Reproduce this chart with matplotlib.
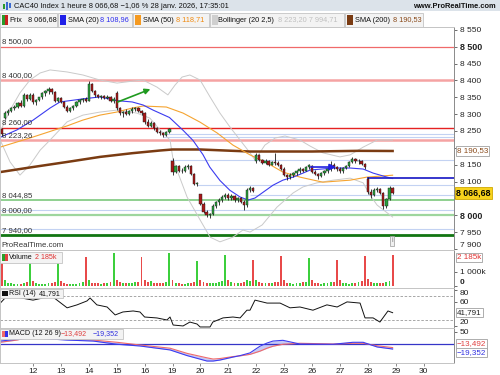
import numpy as np
import matplotlib
matplotlib.use("Agg")
import matplotlib.pyplot as plt
from matplotlib.patches import Rectangle
import matplotlib.transforms as mtransforms

plt.rcParams['font.family'] = ['Liberation Sans', 'DejaVu Sans']

# hourly bars, index 0 = 12 janv. 9h00, 9 bars per session (9h..17h)
first_bar = -10
day_labels = ['12', '13', '14', '15', '16', '19', '20', '21', '22', '23', '26', '27', '28', '29', '30']

opens = [
    8255,
    8288, 8302, 8310, 8318, 8322, 8333, 8325, 8358, 8345,
    8358, 8335, 8342, 8350, 8362, 8368, 8375, 8365, 8338,
    8348, 8335, 8322, 8310, 8318, 8325, 8336, 8342, 8345,
    8340, 8390, 8368, 8356, 8352, 8354, 8348, 8352, 8340,
    8362, 8318, 8302, 8305, 8300, 8310, 8315, 8318, 8308,
    8302, 8276, 8266, 8274, 8258, 8248, 8244, 8238, 8246,
    8160, 8128, 8145, 8132, 8130, 8142, 8146, 8122, 8092,
    8062, 8034, 8010, 8000, 8004, 8028, 8038, 8046, 8055,
    8060, 8050, 8058, 8044, 8052, 8040, 8030, 8076, 8082,
    8160, 8180, 8165, 8156, 8162, 8150, 8158, 8154, 8150,
    8138, 8118, 8112, 8120, 8125, 8132, 8138, 8132, 8142,
    8146, 8128, 8122, 8115, 8125, 8130, 8136, 8150, 8142,
    8136, 8130, 8140, 8146, 8158, 8166, 8160, 8162, 8152,
    8108, 8070, 8060, 8074, 8078, 8066, 8028, 8048, 8082,
]
highs = [
    8258,
    8308, 8315, 8322, 8328, 8337, 8342, 8362, 8360, 8362,
    8362, 8345, 8352, 8365, 8372, 8380, 8378, 8368, 8352,
    8350, 8340, 8328, 8322, 8328, 8340, 8346, 8348, 8350,
    8398, 8393, 8372, 8360, 8358, 8357, 8356, 8354, 8350,
    8368, 8322, 8310, 8315, 8312, 8320, 8322, 8320, 8312,
    8305, 8285, 8280, 8276, 8262, 8254, 8248, 8250, 8260,
    8170, 8150, 8150, 8140, 8148, 8152, 8148, 8126, 8100,
    8064, 8038, 8015, 8008, 8032, 8042, 8050, 8060, 8065,
    8066, 8062, 8060, 8055, 8054, 8044, 8082, 8086, 8084,
    8186, 8183, 8168, 8166, 8164, 8162, 8184, 8160, 8152,
    8142, 8122, 8124, 8128, 8134, 8142, 8140, 8146, 8152,
    8148, 8134, 8126, 8128, 8134, 8140, 8160, 8154, 8146,
    8142, 8144, 8150, 8162, 8172, 8170, 8166, 8164, 8156,
    8112, 8078, 8080, 8084, 8080, 8068, 8052, 8086, 8085,
]
lows = [
    8235,
    8285, 8298, 8305, 8312, 8318, 8320, 8322, 8340, 8343,
    8330, 8328, 8338, 8345, 8355, 8360, 8360, 8335, 8335,
    8332, 8318, 8305, 8306, 8312, 8322, 8330, 8336, 8335,
    8338, 8365, 8352, 8348, 8346, 8345, 8344, 8336, 8332,
    8312, 8298, 8292, 8298, 8296, 8304, 8310, 8305, 8298,
    8272, 8262, 8262, 8254, 8244, 8238, 8232, 8234, 8243,
    8120, 8125, 8128, 8126, 8128, 8136, 8118, 8090, 8088,
    8030, 8006, 7994, 7992, 8000, 8020, 8030, 8040, 8048,
    8046, 8046, 8040, 8040, 8036, 8015, 8025, 8070, 8068,
    8155, 8160, 8152, 8152, 8146, 8148, 8150, 8146, 8134,
    8115, 8104, 8108, 8114, 8120, 8126, 8128, 8130, 8138,
    8124, 8118, 8108, 8112, 8120, 8126, 8130, 8136, 8130,
    8124, 8126, 8136, 8142, 8154, 8156, 8152, 8148, 8138,
    8062, 8052, 8056, 8068, 8062, 8018, 8022, 8045, 8062,
]
closes = [
    8240,
    8302, 8310, 8318, 8322, 8333, 8325, 8358, 8345, 8358,
    8335, 8342, 8350, 8362, 8368, 8375, 8365, 8338, 8348,
    8335, 8322, 8310, 8318, 8325, 8336, 8342, 8345, 8340,
    8390, 8368, 8356, 8352, 8354, 8348, 8352, 8340, 8346,
    8318, 8302, 8305, 8300, 8310, 8315, 8318, 8308, 8302,
    8276, 8266, 8274, 8258, 8248, 8244, 8238, 8246, 8255,
    8128, 8145, 8132, 8130, 8142, 8146, 8122, 8094, 8096,
    8034, 8010, 8000, 8004, 8028, 8038, 8046, 8055, 8060,
    8050, 8058, 8044, 8052, 8040, 8030, 8076, 8082, 8072,
    8180, 8165, 8156, 8162, 8150, 8158, 8154, 8150, 8138,
    8118, 8112, 8120, 8125, 8132, 8138, 8132, 8142, 8148,
    8128, 8122, 8115, 8125, 8130, 8136, 8150, 8142, 8136,
    8130, 8140, 8146, 8158, 8166, 8160, 8162, 8152, 8144,
    8070, 8060, 8074, 8078, 8066, 8028, 8048, 8082, 8066.68,
]
# volume in thousands
volumes = [
    2000,
    420, 180, 200, 170, 160, 170, 220, 260, 1750,
    330, 190, 160, 150, 170, 180, 230, 280, 1750,
    380, 210, 170, 160, 150, 170, 230, 280, 2040,
    420, 230, 190, 180, 170, 180, 240, 300, 2330,
    450, 260, 200, 180, 190, 230, 250, 300, 2040,
    420, 260, 330, 200, 190, 180, 230, 260, 2330,
    430, 220, 180, 160, 170, 180, 200, 250, 1750,
    420, 260, 220, 230, 200, 210, 280, 330, 2185,
    430, 260, 200, 190, 200, 300, 420, 320, 1820,
    430, 260, 200, 180, 200, 230, 280, 300, 2110,
    400, 230, 190, 170, 180, 200, 280, 300, 1970,
    400, 220, 180, 170, 180, 200, 260, 290, 1820,
    400, 230, 190, 170, 180, 210, 280, 340, 2110,
    520, 280, 230, 200, 210, 240, 300, 320, 2185,
]

# indicator lines (x = bar index)
sma20_x = [-10.6, -5.2, 0, 5.5, 8.7, 16, 21.6, 27, 32, 35.5, 38.7, 44, 48.4, 51.6, 54.8, 57, 60.3,
           63.5, 66.8, 69.4, 71.6, 74.2, 77.4, 80.6, 83.9, 87.1, 89.4, 96.8, 102.3, 106.5, 109.7, 114.2, 116]
sma20 = [8231, 8253, 8282, 8318, 8336, 8345, 8351, 8340, 8336, 8327, 8312, 8290, 8252, 8222, 8180, 8143, 8103,
         8074, 8054, 8045, 8051, 8068, 8089, 8104, 8113, 8125, 8134, 8140, 8140, 8137, 8125, 8113, 8108.96]
sma50_x = [-10.6, 0, 11, 16, 21.6, 27, 32, 35.5, 43, 48.4, 53.9, 59.4, 64.5, 70, 75.5, 80.6, 86.1,
           93.5, 102.3, 107.7, 116]
sma50 = [8202, 8232, 8265, 8282, 8297, 8306, 8318, 8324, 8321, 8303, 8276, 8244, 8208, 8179, 8155, 8128, 8113,
         8098, 8104, 8113, 8118.71]
sma200_x = [-10.6, 0, 11, 21.6, 32, 41, 45, 54, 64.5, 70, 90, 105, 116]
sma200 = [8128, 8143, 8158, 8173, 8184, 8192, 8195, 8195, 8191, 8189, 8189, 8191, 8190.53]
bb_up_x = [-10.6, -7.4, -4.2, -1, 2.3, 5.5, 11, 16.1, 21.6, 27.1, 32.3, 35.5, 40, 43.5, 45.8, 48.1, 50.6,
           53.9, 57.1, 60.3, 63.5, 66.8, 70, 71.6, 74.8, 78.1, 81.3, 86.1, 89.4, 93.5, 99, 102.3, 106.5, 111, 116]
bb_up = [8247, 8312, 8363, 8401, 8422, 8431, 8425, 8416, 8401, 8392, 8398, 8401, 8380, 8357, 8386, 8410, 8416,
         8401, 8351, 8303, 8262, 8223, 8185, 8164, 8208, 8229, 8235, 8223, 8205, 8185, 8173, 8179, 8202, 8223, 8223.20]
bb_lo_x = [-10.6, -7.4, -4.2, -1, 2.3, 5.5, 11, 16.1, 21.6, 27.1, 33.5, 37.7, 41, 44.2, 45.2, 49.7, 53.9,
           57.1, 60.3, 64.5, 67.7, 70, 73.9, 78.7, 83.9, 87.1, 91.6, 96.8, 102.3, 106.5, 108.7, 111, 116]
bb_lo = [8223, 8158, 8119, 8149, 8193, 8223, 8277, 8297, 8306, 8312, 8303, 8288, 8253, 8223, 8164, 8054, 7986,
         7935, 7921, 7935, 7956, 7950, 7971, 8024, 8066, 8084, 8096, 8104, 8110, 8096, 8060, 8030, 7994.71]

rsi_x = [-10.6, -9, -5.2, 0, 3.2, 6.5, 11, 14.2, 17.4, 18.4, 20.6, 23.9, 26.5, 29, 32.3, 34.5, 36, 40,
         43.2, 44.2, 45.2, 48.4, 50.6, 52.9, 53.9, 57.1, 58, 61.3, 64.5, 66.8, 69, 70, 71.6, 75.5, 79.7, 82.9,
         86.1, 90.3, 94.8, 98.1, 101.3, 105.5, 107.1, 109.7, 111.9, 114.5, 116]
rsi = [57.7, 66.6, 68, 63, 66.6, 68, 50, 55, 61.6, 66.6, 55, 51.4, 38, 43, 44.7, 43, 34.5, 32.9,
       29.5, 34.5, 21, 19.4, 26, 22.7, 17.7, 17.7, 26, 33, 34.5, 33, 46, 46, 63, 58, 58, 50,
       51.4, 46, 55, 51.4, 60, 58, 33, 33, 26, 44.7, 41.791]

macd_x = [-10.6, -5.2, -1.9, 0, 11, 19.4, 27.1, 34.5, 44.2, 49.7, 56.1, 58.1, 60.3, 64.5, 66.8, 70, 73.2,
          75.5, 77.4, 80.6, 86.1, 96.8, 103.2, 106.5, 111, 116]
macd_red = [8, 17, 27, 28, 24, 17, 8, -3, -16, -37, -55, -60, -58, -50, -47, -41, -28,
            -16, -8, 0, 4, 1, 4, 4, -6, -13.492]
macd_blue = [13, 20, 24, 26, 17, 13, 0, -7, -23, -46, -68, -68, -64, -52, -46, -35, -8,
             5, 13, 16, 1, 0, 8, 8, -11, -19.352]

# horizontal levels drawn on the chart
levels = [8500, 8400, 8260, 8223.26, 8044.85, 8000, 7940]
level_colors = ['#f06a6a', '#f5a3a3', '#e52222', '#f5a3a3', '#8fd08f', '#9ed69e', '#127512']
level_widths = [0.9, 1.8, 1.0, 1.8, 1.4, 1.6, 2.0]
support = [8240, 8233, 8163, 8089, 8059, 8014, 7958]
support_start = [42, 42, 44.2, 52.9, 70, -10.7, -10.7]
green_arrow = [(26.5, 8333), (38.7, 8377)]
blue_arrow = [(88.7, 8143), (98.6, 8143)]
sma20_level = (107.8, 8111)

W, H = 500, 375
XMIN, XMAX = -10.65, 135.8


def fr(v, d=2):
    return f"{v:,.{d}f}".replace(",", " ").replace(".", ",")


def box(x0, y0, x1, y1):
    return [x0 / W, 1 - y1 / H, (x1 - x0) / W, (y1 - y0) / H]


def fx(px):
    return px / W


def fy(py):
    return 1 - py / H


fig = plt.figure(figsize=(5, 3.75), dpi=100)
ax = fig.add_axes(box(0, 27, 454, 250))
axv = fig.add_axes(box(0, 250, 454, 287.5), sharex=ax)
axr = fig.add_axes(box(0, 287.5, 454, 327.5), sharex=ax)
axm = fig.add_axes(box(0, 327.5, 454, 362.5), sharex=ax)

for a in (ax, axv, axr, axm):
    a.yaxis.tick_right()
    a.tick_params(axis='y', direction='out', length=2.5, width=0.6, colors='#555555',
                  labelsize=6, labelcolor='#222222', pad=1.5)
    a.tick_params(axis='x', bottom=False, labelbottom=False)
    for s in ('left', 'top', 'bottom'):
        a.spines[s].set_color('#c4c4c4')
        a.spines[s].set_linewidth(0.7)
    a.spines['right'].set_color('#8a8a8a')
    a.spines['right'].set_linewidth(0.7)
ax.set_xlim(XMIN, XMAX)

x = np.arange(first_bar, first_bar + len(closes))
o = np.array(opens, float)
h = np.array(highs, float)
l = np.array(lows, float)
c = np.array(closes, float)
up = c >= o

# ---- main price panel
ax.set_ylim(7896.8, 8558.4)
for lv, col, lw in zip(levels, level_colors, level_widths):
    ax.axhline(lv, color=col, lw=lw, zorder=1)
    ax.text(XMIN + 0.5, lv + 4, fr(lv), fontsize=5.6, color='#333333', va='bottom', ha='left', zorder=6)
for lv, st in zip(support, support_start):
    ax.hlines(lv, st, XMAX, color='#c3d2f2', lw=0.8, zorder=1)

ax.plot(bb_up_x, bb_up, color='#cacaca', lw=0.7, zorder=2)
ax.plot(bb_lo_x, bb_lo, color='#cacaca', lw=0.7, zorder=2)
ax.plot(sma200_x, sma200, color='#7a3b12', lw=1.8, zorder=2)
ax.plot(sma50_x, sma50, color='#f5a431', lw=0.8, zorder=2)
ax.plot(sma20_x, sma20, color='#3b3bf0', lw=0.8, zorder=2)
ax.hlines(sma20_level[1], sma20_level[0], XMAX, color='#2626c8', lw=1.3, zorder=2)

ax.vlines(x, l, h, color='#1a1a1a', lw=0.6, zorder=3)
ax.bar(x, c - o, bottom=o, width=0.75, color=np.where(up, '#2aa03c', '#a81818'),
       edgecolor='#1a1a1a', linewidth=0.3, zorder=4)

ax.annotate('', xy=green_arrow[1], xytext=green_arrow[0],
            arrowprops=dict(arrowstyle='-|>', color='#1f9a1f', lw=1.2, mutation_scale=8), zorder=5)
ax.annotate('', xy=blue_arrow[1], xytext=blue_arrow[0],
            arrowprops=dict(arrowstyle='-|>', color='#2020e0', lw=1.2, mutation_scale=9), zorder=5)

ticks = list(range(7900, 8551, 50))
ax.set_yticks(ticks)
# 8 200 and 8 050 sit under the value boxes on the right
ax.set_yticklabels(['' if t in (8200, 8050) else fr(t, 0) for t in ticks])
for t, lab in zip(ticks, ax.get_yticklabels()):
    if t in (8000, 8500):
        lab.set_fontweight('bold')
        lab.set_fontsize(6.4)
    if t == 7900:
        lab.set_verticalalignment('bottom')

trans = mtransforms.blended_transform_factory(ax.transAxes, ax.transData)
ax.text(1.006, sma200[-1], fr(sma200[-1]), transform=trans, fontsize=5.8, color='#8a4a1a',
        va='center', ha='left', zorder=10, clip_on=False,
        bbox=dict(boxstyle='square,pad=0.15', fc='white', ec='#a0a0a0', lw=0.6))
ax.text(1.004, closes[-1], fr(closes[-1]), transform=trans, fontsize=6.3, color='black',
        fontweight='bold', va='center', ha='left', zorder=10, clip_on=False,
        bbox=dict(boxstyle='square,pad=0.15', fc='#f7d21c', ec='#d0a800', lw=0.6))
ax.text(0.004, 0.004, 'ProRealTime.com', transform=ax.transAxes, fontsize=5.6, color='#333333',
        va='bottom', ha='left')
ax.text(115.8, 0.025, 'i', transform=mtransforms.blended_transform_factory(ax.transData, ax.transAxes),
        fontsize=5, color='#777777', ha='center', va='bottom',
        bbox=dict(boxstyle='square,pad=0.2', fc='#f0f0f0', ec='#999999', lw=0.5))

# ---- volume
axv.set_ylim(-110, 2550)
axv.bar(x, volumes, width=0.6, color=np.where(up, '#3ccf3c', '#e84a4a'), lw=0)
axv.set_yticks([0, 1000])
axv.set_yticklabels(['0', '1 000k'])
axv.get_yticklabels()[0].set_fontweight('bold')
axv.get_yticklabels()[0].set_verticalalignment('bottom')
tv = mtransforms.blended_transform_factory(axv.transAxes, axv.transData)
axv.text(1.006, 2000, '2 185k', transform=tv, fontsize=5.8, color='#e03030', va='center',
         ha='left', clip_on=False, zorder=10,
         bbox=dict(boxstyle='square,pad=0.15', fc='white', ec='#a0a0a0', lw=0.6))

# ---- RSI
axr.set_ylim(16.8, 84.3)
axr.axhline(70, color='#999999', lw=0.6, ls=(0, (3, 2)))
axr.axhline(30, color='#999999', lw=0.6, ls=(0, (3, 2)))
axr.plot(rsi_x, rsi, color='#111111', lw=0.7)
axr.set_yticks([20, 60, 80])
axr.set_yticklabels(['20', '60', '80'])
axr.get_yticklabels()[0].set_verticalalignment('bottom')
axr.get_yticklabels()[2].set_verticalalignment('top')
tr = mtransforms.blended_transform_factory(axr.transAxes, axr.transData)
axr.text(1.006, rsi[-1], fr(rsi[-1], 3), transform=tr, fontsize=5.8, color='#222222', va='center',
         ha='left', clip_on=False, zorder=10,
         bbox=dict(boxstyle='square,pad=0.15', fc='white', ec='#a0a0a0', lw=0.6))

# ---- MACD
axm.set_ylim(-74, 68)
axm.fill_between(macd_x, macd_red, macd_blue, color='#c6c9f5', lw=0)
axm.axhline(0, color='#3535c8', lw=0.9)
axm.plot(macd_x, macd_red, color='#f06a6a', lw=0.8)
axm.plot(macd_x, macd_blue, color='#3c3cf0', lw=0.8)
axm.set_yticks([50])
axm.set_yticklabels(['50'])
tm = mtransforms.blended_transform_factory(axm.transAxes, axm.transData)
axm.text(1.006, 1, fr(macd_red[-1], 3).replace('-', '\u2212'), transform=tm, fontsize=5.8,
         color='#e04040', va='center', ha='left', clip_on=False, zorder=10,
         bbox=dict(boxstyle='square,pad=0.15', fc='white', ec='#a0a0a0', lw=0.6))
axm.text(1.006, -33, fr(macd_blue[-1], 3).replace('-', '\u2212'), transform=tm, fontsize=5.8,
         color='#3030e0', va='center', ha='left', clip_on=False, zorder=10,
         bbox=dict(boxstyle='square,pad=0.15', fc='white', ec='#a0a0a0', lw=0.6))

day_pos = [9 * k for k in range(len(day_labels))]
axm.set_xticks(day_pos)
axm.set_xticklabels(day_labels)
axm.tick_params(axis='x', bottom=True, labelbottom=True, direction='out', length=2.5, width=0.6,
                colors='#777777', labelcolor='#222222', labelsize=6, pad=1.2)

# ---- header bar and legends
fig.patches.append(Rectangle((0, fy(11)), 1, 11 / H, transform=fig.transFigure,
                             fc='#dce3ea', ec='none', zorder=0))
fig.patches.append(Rectangle((fx(3), fy(9)), 2 / W, 5 / H, transform=fig.transFigure, fc='#2a9a2a', ec='none'))
fig.patches.append(Rectangle((fx(6), fy(10)), 2 / W, 8 / H, transform=fig.transFigure, fc='#3a6ad0', ec='none'))
fig.patches.append(Rectangle((fx(9), fy(8)), 2 / W, 5 / H, transform=fig.transFigure, fc='#3a6ad0', ec='none'))
fig.text(fx(14), fy(6), 'CAC40 Index 1 heure 8 066,68 \u22121,06 % 28 janv. 2026, 17:35:01',
         fontsize=5.4, color='#111111', va='center', ha='left')
fig.text(fx(496), fy(6.5), 'www.ProRealTime.com', fontsize=5.4, fontweight='bold', color='#111111',
         va='center', ha='right')


def legend_box(x0, x1, y0, y1, icons, pieces, size=5.3):
    fig.patches.append(Rectangle((fx(x0), fy(y1)), (x1 - x0) / W, (y1 - y0) / H, transform=fig.transFigure,
                                 fc='#f3f3f3', ec='#c4c4c4', lw=0.6, zorder=5))
    ix = x0 + 2
    for col in icons:
        fig.patches.append(Rectangle((fx(ix), fy(y1 - 2)), 3 / W, (y1 - y0 - 4) / H,
                                     transform=fig.transFigure, fc=col, ec='none', zorder=6))
        ix += 3
    for px, txt, col in pieces:
        fig.text(fx(px), fy((y0 + y1) / 2), txt, fontsize=size, color=col, va='center', ha='left', zorder=7)


legend_box(0, 57, 13, 27, ['#2a9a2a', '#c82020'], [(9, 'Prix', '#111111'), (28, '8 066,68', '#111111')])
legend_box(58, 132, 13, 27, ['#2020e8', '#2020e8'], [(68, 'SMA (20)', '#111111'), (100, '8 108,96', '#2f2ff0')])
legend_box(133, 209, 13, 27, ['#f59a20', '#f59a20'], [(143, 'SMA (50)', '#111111'), (176, '8 118,71', '#f08a10')])
legend_box(210, 344, 13, 27, ['#cfcfcf', '#cfcfcf'],
           [(218, 'Bollinger (20 2,5)', '#111111'), (278, '8 223,20 7 994,71', '#c0c0c0')])
legend_box(345, 423, 13, 27, ['#7a3b12', '#7a3b12'], [(355, 'SMA (200)', '#111111'), (393, '8 190,53', '#8a4a1a')])
legend_box(0, 62, 252, 263, ['#2aa02a', '#e04040'], [(9, 'Volume', '#111111'), (35, '2 185k', '#e03030')],
           size=5.1)
legend_box(0, 63, 288.5, 298, ['#111111', '#111111'], [(9, 'RSI (14)', '#111111'), (39, '41,791', '#111111')],
           size=5.1)
legend_box(0, 123, 328.5, 338.5, ['#f06a6a', '#3030e8'],
           [(9, 'MACD (12 26 9)', '#111111'), (61, '\u221213,492', '#e04040'), (93, '\u221219,352', '#3030e0')],
           size=5.1)

fig.savefig('out.png', dpi=100)
